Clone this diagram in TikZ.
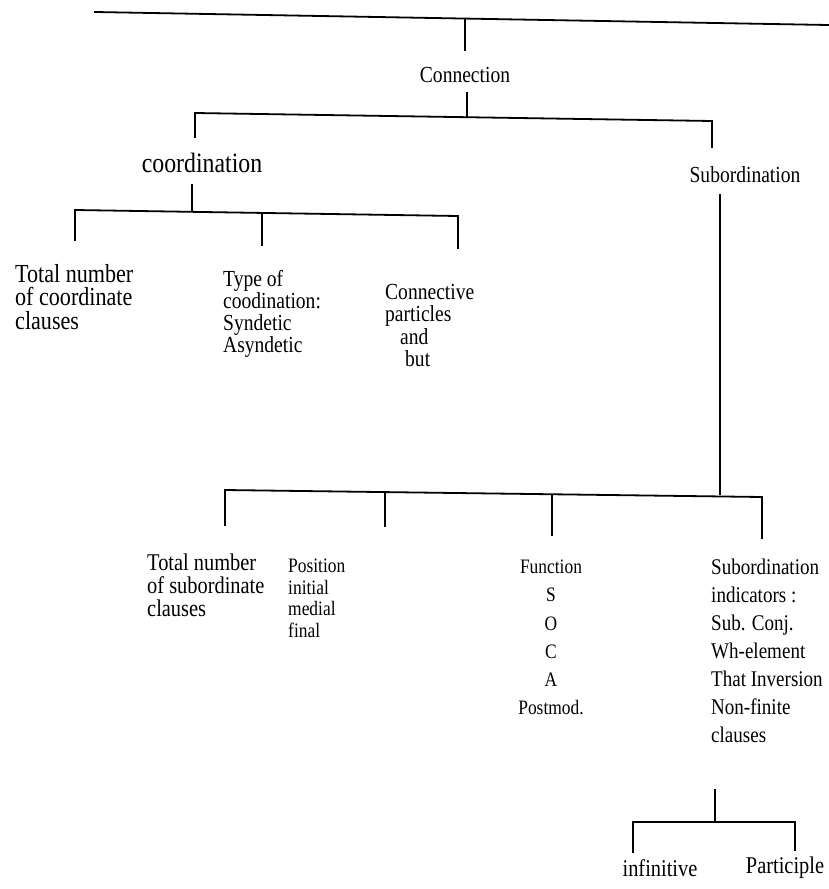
\documentclass[tikz,border=0pt]{standalone}
\usepackage{fontspec}
\setmainfont{Liberation Serif}[FakeStretch=0.85]
\usetikzlibrary{positioning}

\tikzset{
	tree/.style={line width=1.8pt, line cap=rect},
	word/.style={font=\fontsize{23}{22}\selectfont, inner sep=0pt},
	column/.style={word, align=left, anchor=north west},
	bigword/.style={font=\fontsize{26}{23.5}\selectfont},
	smallword/.style={font=\fontsize{20.5}{21.5}\selectfont},
	listcol/.style={font=\fontsize{22.4}{28}\selectfont}
}

\begin{document}
\begin{tikzpicture}[x=1pt,y=-1pt]
	\useasboundingbox (0,0) rectangle (828,889);

	\coordinate (topl) at (95,12);
	\coordinate (topr) at (828,25);
	\draw[tree] (topl) -- (topr);

	\node[word] (connection) at (465,75) {Connection};
	\node[word, font=\fontsize{28}{22}\selectfont] (coordination) at (202,163) {coordination};
	\node[word] (subordination) at (745,175) {Subordination};

	\coordinate (cbarl) at (195,113);
	\coordinate (cbarr) at (712,121);
	\draw[tree] (465,20) -- (465,50);
	\draw[tree] (467,93) -- (467,117);
	\draw[tree] ([yshift=-24pt]cbarl) -- (cbarl) -- (cbarr) -- ([yshift=-26pt]cbarr);

	\node[column, bigword] (totalco) at (15,264) {Total number\\of coordinate\\clauses};
	\node[column, font=\fontsize{23}{22}\selectfont] (typeco) at (223,270) {Type of\\coodination:\\Syndetic\\Asyndetic};
	\node[column, font=\fontsize{23}{22.5}\selectfont] (particles) at (385,284) {Connective\\particles\\\hspace*{15pt}and\\\hspace*{20pt}but};

	\coordinate (kbarl) at (75,210);
	\coordinate (kbarr) at (458,216);
	\draw[tree] (192,185) -- (192,210);
	\draw[tree] ([yshift=-30pt]kbarl) -- (kbarl) -- (kbarr) -- ([yshift=-32pt]kbarr);
	\draw[tree] (262,213) -- (262,245);

	\node[column, font=\fontsize{24}{23}\selectfont] (totalsub) at (147,554) {Total number\\of subordinate\\clauses};
	\node[column, smallword] (position) at (288,559) {Position\\initial\\medial\\final};
	\node[word, font=\fontsize{20.5}{28.2}\selectfont, align=center, anchor=north] (function) at (551,560) {Function\\S\\O\\C\\A\\Postmod.};
	\node[column, listcol] (indicators) at (711,559) {Subordination\\indicators :\\Sub. Conj.\\Wh-element\\That Inversion\\Non-finite\\clauses};

	\coordinate (sbarl) at (225,490);
	\coordinate (sbarr) at (762,497);
	\draw[tree] (720,195) -- (720,494);
	\draw[tree] ([yshift=-35pt]sbarl) -- (sbarl) -- (sbarr) -- ([yshift=-41pt]sbarr);
	\draw[tree] (385,493) -- (385,526);
	\draw[tree] (552,495) -- (552,535);

	\node[word, font=\fontsize{24}{22}\selectfont] (infinitive) at (660,868) {infinitive};
	\node[word, font=\fontsize{24}{22}\selectfont] (participle) at (785,868) {Participle};

	\coordinate (pbarl) at (633,822);
	\coordinate (pbarr) at (795,822);
	\draw[tree] (715,790) -- (715,822);
	\draw[tree] ([yshift=-30pt]pbarl) -- (pbarl) -- (pbarr) -- ([yshift=-28pt]pbarr);
\end{tikzpicture}
\end{document}
